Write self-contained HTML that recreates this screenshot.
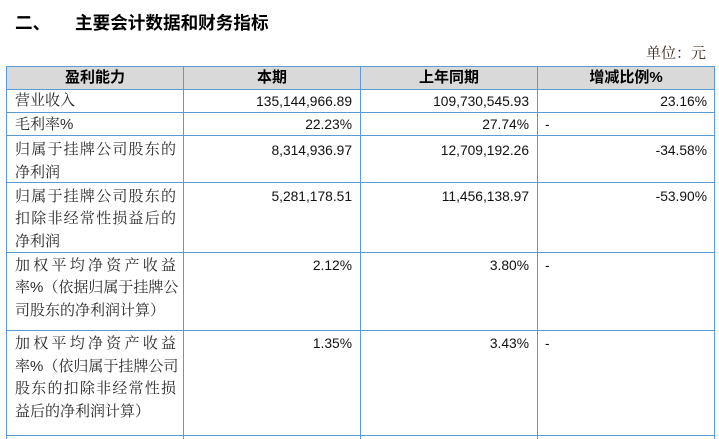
<!DOCTYPE html>
<html>
<head>
<meta charset="utf-8">
<style>
html,body{margin:0;padding:0;}
body{width:719px;height:439px;overflow:hidden;background:#fff;position:relative;
 font-family:"Liberation Sans","Noto Serif CJK SC",serif;color:#2a2a2a;}
.a{position:absolute;white-space:nowrap;line-height:20px;height:20px;}
.t{font-family:"Liberation Sans","Noto Sans CJK SC",sans-serif;font-weight:bold;color:#000;font-size:17.6px;}
.hd{font-family:"Liberation Sans","Noto Sans CJK SC",sans-serif;font-weight:bold;color:#000;font-size:15px;text-align:center;}
.lb{font-size:15px;left:15px;}
.j{width:161px;text-align:justify;text-align-last:justify;}
.n{font-size:13.8px;color:#111;text-align:right;}
.vl{position:absolute;width:1px;background:#5b9bd5;top:66px;height:373px;}
.hl{position:absolute;height:1px;background:#5b9bd5;left:6px;width:709px;}
</style>
</head>
<body>
<!-- title -->
<div class="a t" style="left:15px;top:12.5px;">二、</div>
<div class="a t" style="left:75px;top:12.5px;letter-spacing:0px;">主要会计数据和财务指标</div>
<div class="a" style="left:646px;top:43.5px;font-size:15px;color:#3a2a1a;">单位：元</div>

<!-- header background -->
<div style="position:absolute;left:6px;top:66px;width:709px;height:23px;background:#d9d9d9;"></div>

<!-- grid lines -->
<div class="hl" style="top:66px;"></div>
<div class="hl" style="top:89px;"></div>
<div class="hl" style="top:112px;"></div>
<div class="hl" style="top:135px;"></div>
<div class="hl" style="top:182px;"></div>
<div class="hl" style="top:252px;"></div>
<div class="hl" style="top:330px;"></div>
<div class="hl" style="top:435px;"></div>
<div class="vl" style="left:6px;"></div>
<div class="vl" style="left:183px;"></div>
<div class="vl" style="left:360px;"></div>
<div class="vl" style="left:537px;"></div>
<div class="vl" style="left:714px;"></div>

<!-- header -->
<div class="a hd" style="left:7px;width:176px;top:68px;">盈利能力</div>
<div class="a hd" style="left:184px;width:176px;top:68px;">本期</div>
<div class="a hd" style="left:361px;width:176px;top:68px;">上年同期</div>
<div class="a hd" style="left:538px;width:176px;top:68px;">增减比例%</div>

<!-- row 1 -->
<div class="a lb" style="top:91px;">营业收入</div>
<div class="a n" style="right:367px;top:91.5px;">135,144,966.89</div>
<div class="a n" style="right:190px;top:91.5px;">109,730,545.93</div>
<div class="a n" style="right:12px;top:91.5px;">23.16%</div>

<!-- row 2 -->
<div class="a lb" style="top:114.5px;">毛利率%</div>
<div class="a n" style="right:367px;top:114.5px;">22.23%</div>
<div class="a n" style="right:190px;top:114.5px;">27.74%</div>
<div class="a n" style="left:545px;top:114.5px;">-</div>

<!-- row 3 -->
<div class="a lb j" style="top:140px;">归属于挂牌公司股东的</div>
<div class="a lb" style="top:162.5px;">净利润</div>
<div class="a n" style="right:367px;top:140.5px;">8,314,936.97</div>
<div class="a n" style="right:190px;top:140.5px;">12,709,192.26</div>
<div class="a n" style="right:12px;top:140.5px;">-34.58%</div>

<!-- row 4 -->
<div class="a lb j" style="top:186.5px;">归属于挂牌公司股东的</div>
<div class="a lb j" style="top:209px;">扣除非经常性损益后的</div>
<div class="a lb" style="top:231.5px;">净利润</div>
<div class="a n" style="right:367px;top:186.5px;">5,281,178.51</div>
<div class="a n" style="right:190px;top:186.5px;">11,456,138.97</div>
<div class="a n" style="right:12px;top:186.5px;">-53.90%</div>

<!-- row 5 -->
<div class="a lb j" style="top:255.5px;">加权平均净资产收益</div>
<div class="a lb j" style="top:278px;">率%（依据归属于挂牌公</div>
<div class="a lb" style="top:300.5px;">司股东的净利润计算）</div>
<div class="a n" style="right:367px;top:255.5px;">2.12%</div>
<div class="a n" style="right:190px;top:255.5px;">3.80%</div>
<div class="a n" style="left:545px;top:255.5px;">-</div>

<!-- row 6 -->
<div class="a lb j" style="top:334px;">加权平均净资产收益</div>
<div class="a lb j" style="top:356.5px;">率%（依归属于挂牌公司</div>
<div class="a lb j" style="top:379px;">股东的扣除非经常性损</div>
<div class="a lb" style="top:401.5px;">益后的净利润计算）</div>
<div class="a n" style="right:367px;top:334px;">1.35%</div>
<div class="a n" style="right:190px;top:334px;">3.43%</div>
<div class="a n" style="left:545px;top:334px;">-</div>
</body>
</html>
